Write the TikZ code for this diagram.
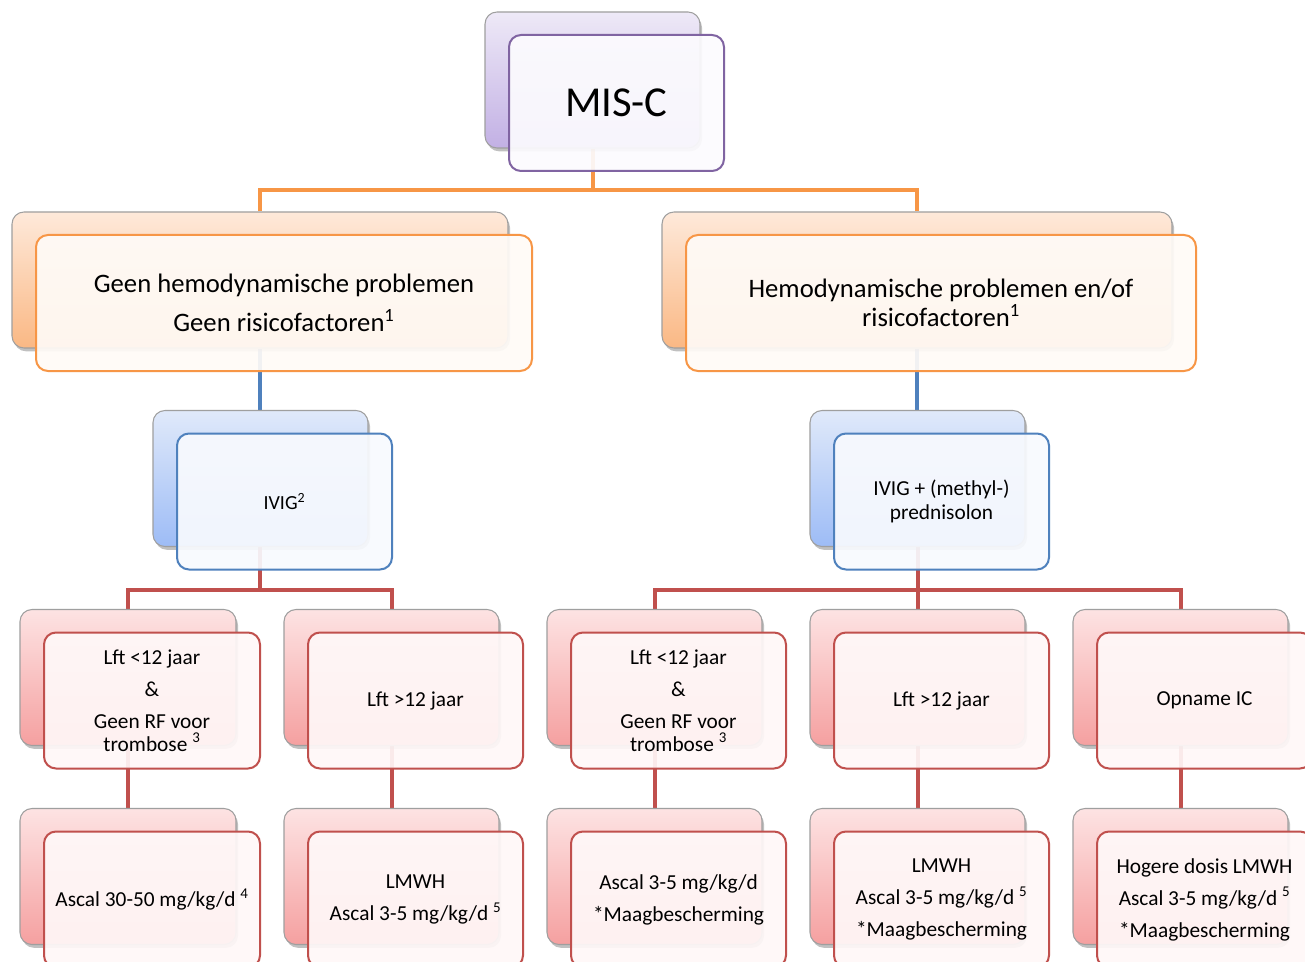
\documentclass[tikz,border=0pt]{standalone}
\usepackage{fontspec}
\setmainfont{Carlito}
\usetikzlibrary{shadows}
\pgfdeclarelayer{bottom}
\pgfdeclarelayer{background}
\pgfsetlayers{bottom,background,main}
\definecolor{purTop}{HTML}{EEE9F7}
\definecolor{purBot}{HTML}{C2B0E4}
\definecolor{purEdge}{HTML}{8064A2}
\definecolor{purFill}{HTML}{FCFBFE}
\definecolor{oraTop}{HTML}{FEE9DA}
\definecolor{oraBot}{HTML}{FAB884}
\definecolor{oraEdge}{HTML}{F79646}
\definecolor{oraFill}{HTML}{FFFBF7}
\definecolor{bluTop}{HTML}{E0E9FA}
\definecolor{bluBot}{HTML}{9DBCF6}
\definecolor{bluEdge}{HTML}{4F81BD}
\definecolor{bluFill}{HTML}{F8FAFE}
\definecolor{redTop}{HTML}{FDE3E3}
\definecolor{redBot}{HTML}{F5A0A0}
\definecolor{redEdge}{HTML}{C0504D}
\definecolor{redFill}{HTML}{FFF8F8}
\newcommand\MakeCard[7]{%
  \node[backcard=#5, minimum width=#4*0.75pt] (#1) at (#2,#3) {};
  \node[frontbox=#5, minimum width=#4*0.75pt, font=#7] (#1f) at ([shift={(24,23)}]#1.center) {#6};
}
\begin{document}
\begin{tikzpicture}[x=0.75pt,y=-0.75pt,
  backcard/.style={rectangle, rounded corners=9pt, draw=gray!75, line width=0.8pt,
    top color=#1Top, bottom color=#1Bot, minimum height=102pt, inner sep=0pt,
    drop shadow={shadow xshift=1.5pt, shadow yshift=-2.5pt, opacity=0.35, fill=black!70}},
  frontbox/.style={rectangle, rounded corners=9pt, draw=#1Edge, line width=1.5pt,
    fill=#1Fill, fill opacity=0.92, text opacity=1, minimum height=102pt,
    inner sep=2pt, align=center, text=black},
  oline/.style={draw=oraEdge, line width=3pt},
  bline/.style={draw=bluEdge, line width=3pt},
  rline/.style={draw=redEdge, line width=3pt}]
\useasboundingbox (0,0) rectangle (1305,962);
\begin{pgfonlayer}{bottom}
\fill[white] (0,0) rectangle (1305,962);
\end{pgfonlayer}

% level 1
\MakeCard{misc}{592.5}{80}{215}{pur}{MIS-C}{\fontsize{32}{36}\selectfont}
% level 2
\MakeCard{la}{260}{280}{496}{ora}{Geen hemodynamische problemen\\Geen risicofactoren\textsuperscript{1}}{\fontsize{20}{29.25}\selectfont}
\MakeCard{lb}{917}{280}{510}{ora}{Hemodynamische problemen en/of\\risicofactoren\textsuperscript{1}}{\fontsize{20}{21.75}\selectfont}
% level 3
\MakeCard{ma}{260.5}{478.5}{215}{blu}{IVIG\textsuperscript{2}}{\fontsize{15}{18}\selectfont}
\MakeCard{mb}{917.5}{478.5}{215}{blu}{IVIG + (methyl-)\\prednisolon}{\fontsize{16}{18}\selectfont}
% level 4
\MakeCard{pa}{128}{677.5}{216}{red}{Lft <12 jaar\\[6.75pt]\&\\[6.75pt]Geen RF voor\\trombose \textsuperscript{3}}{\fontsize{16}{17.25}\selectfont}
\MakeCard{pb}{391.5}{677.5}{215}{red}{Lft >12 jaar}{\fontsize{16}{18}\selectfont}
\MakeCard{pc}{654.5}{677.5}{215}{red}{Lft <12 jaar\\[6.75pt]\&\\[6.75pt]Geen RF voor\\trombose \textsuperscript{3}}{\fontsize{16}{17.25}\selectfont}
\MakeCard{pd}{917.5}{677.5}{215}{red}{Lft >12 jaar}{\fontsize{16}{18}\selectfont}
\MakeCard{pe}{1180.5}{677.5}{215}{red}{Opname IC}{\fontsize{16}{18}\selectfont}
% level 5
\MakeCard{qa}{128}{876.5}{216}{red}{Ascal 30-50 mg/kg/d \textsuperscript{4}}{\fontsize{16}{24}\selectfont}
\MakeCard{qb}{391.5}{876.5}{215}{red}{LMWH\\Ascal 3-5 mg/kg/d \textsuperscript{5}}{\fontsize{16}{24}\selectfont}
\MakeCard{qc}{654.5}{876.5}{215}{red}{Ascal 3-5 mg/kg/d\\*Maagbescherming}{\fontsize{16}{24}\selectfont}
\MakeCard{qd}{917.5}{876.5}{215}{red}{LMWH\\Ascal 3-5 mg/kg/d \textsuperscript{5}\\*Maagbescherming}{\fontsize{16}{24}\selectfont}
\MakeCard{qe}{1180.5}{876.5}{215}{red}{Hogere dosis LMWH\\Ascal 3-5 mg/kg/d \textsuperscript{5}\\*Maagbescherming}{\fontsize{16}{24}\selectfont}

\coordinate (j0) at (592.5,190);
\coordinate (j1) at (260,590);
\coordinate (j2) at (917.5,590);

\begin{pgfonlayer}{background}
\draw[oline] (misc.south) -- (j0);
\draw[oline] (la.north) |- (j0) -| (lb.north);
\draw[bline] (la.south) -- (ma.north -| la.south);
\draw[bline] (lb.south) -- (mb.north -| lb.south);
\draw[rline] (ma.south -| j1) -- (j1);
\draw[rline] (pa.north) |- (j1) -| (pb.north);
\draw[rline] (mb.south) -- (pd.north);
\draw[rline] (pc.north) |- (j2) -| (pe.north);
\draw[rline] (pa.south) -- (qa.north);
\draw[rline] (pb.south) -- (qb.north);
\draw[rline] (pc.south) -- (qc.north);
\draw[rline] (pd.south) -- (qd.north);
\draw[rline] (pe.south) -- (qe.north);
\end{pgfonlayer}
\end{tikzpicture}
\end{document}
